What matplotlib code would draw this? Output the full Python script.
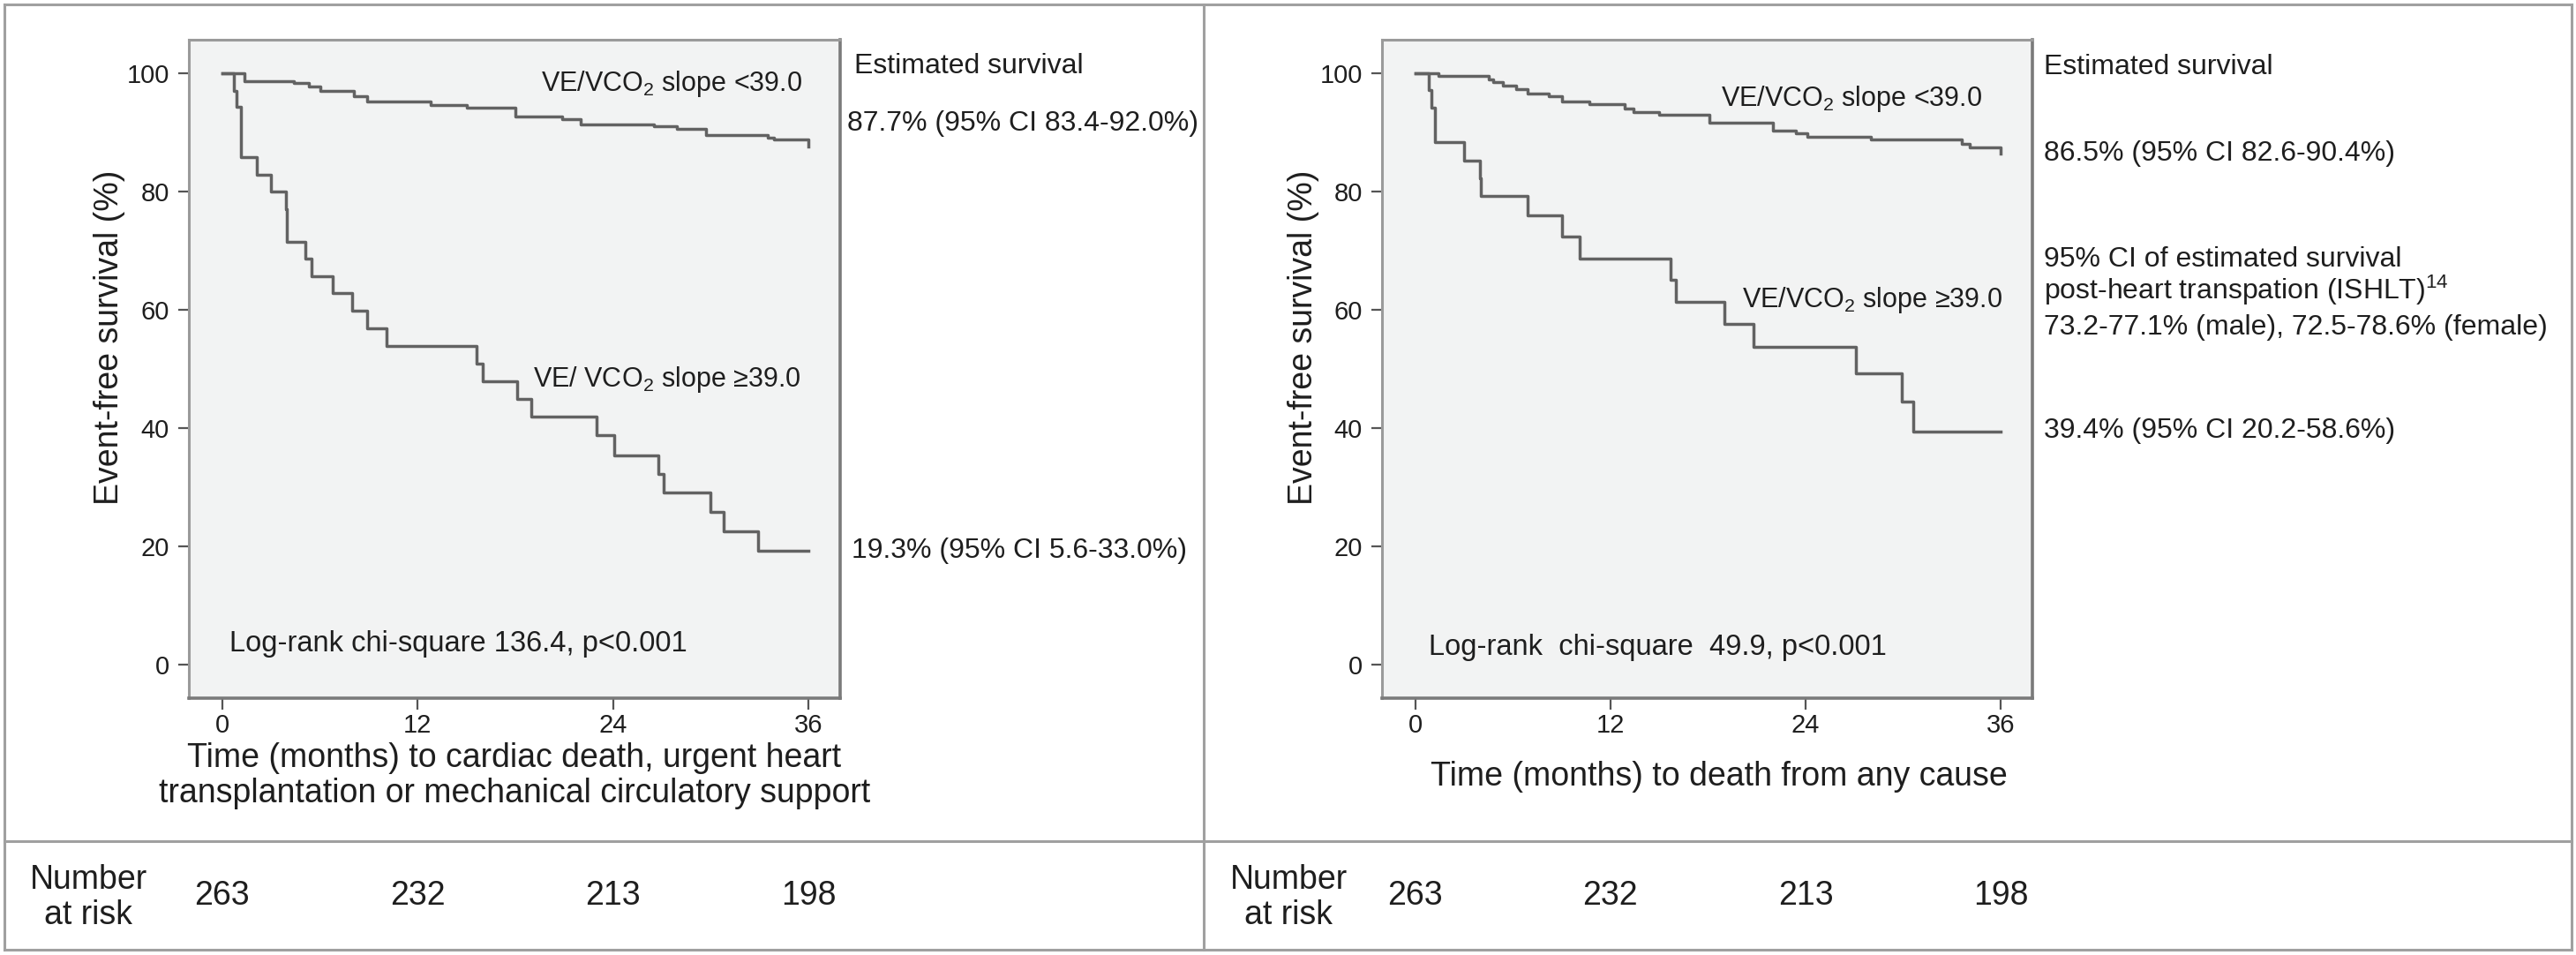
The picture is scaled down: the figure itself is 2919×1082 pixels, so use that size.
import matplotlib
matplotlib.use('Agg')
import matplotlib.pyplot as plt
import matplotlib.transforms as mtransforms
from matplotlib.lines import Line2D

plt.rcParams['font.family'] = ['Liberation Sans', 'DejaVu Sans']
plt.rcParams['mathtext.fontset'] = 'custom'
plt.rcParams['mathtext.rm'] = 'Liberation Sans'
plt.rcParams['mathtext.it'] = 'Liberation Sans:italic'
plt.rcParams['mathtext.bf'] = 'Liberation Sans:bold'

# Kaplan-Meier curves (months, survival %)
left_low_t = [0, 1.35, 4.4, 5.3, 6.0, 8.1, 8.9, 12.8, 15.0, 18.0, 20.9, 22.0,
              26.5, 27.9, 29.7, 33.5, 33.9, 36.0]
left_low_s = [100, 98.7, 98.4, 97.8, 97.0, 96.2, 95.2, 94.6, 94.2, 92.7, 92.2, 91.4,
              91.0, 90.6, 89.6, 89.1, 88.8, 87.7]
left_high_t = [0, 0.7, 0.85, 1.13, 2.15, 3.0, 3.9, 3.95, 5.1, 5.5, 6.8, 8.0, 8.9,
               10.1, 15.6, 16.0, 18.1, 19.0, 23.0, 24.1, 26.8, 27.1, 30.0, 30.8,
               32.9, 36.0]
left_high_s = [100, 97.1, 94.3, 85.8, 82.8, 80.0, 77.0, 71.5, 68.6, 65.7, 62.9, 59.9,
               56.9, 53.9, 50.9, 47.9, 44.9, 41.9, 38.8, 35.4, 32.2, 29.1, 25.8,
               22.5, 19.3, 19.3]

right_low_t = [0, 1.4, 4.5, 4.8, 5.4, 6.2, 6.9, 8.2, 9.0, 10.7, 12.9, 13.4, 15.0,
               18.1, 22.0, 23.4, 24.1, 28.0, 33.6, 34.1, 36.0]
right_low_s = [100, 99.6, 99.0, 98.5, 97.9, 97.3, 96.6, 96.2, 95.2, 94.8, 94.0, 93.4,
               93.0, 91.6, 90.3, 89.8, 89.3, 88.8, 88.1, 87.5, 86.5]
right_high_t = [0, 0.8, 1.0, 1.2, 3.0, 4.0, 4.05, 6.9, 9.0, 10.1, 15.7, 16.0, 19.0,
                20.8, 27.1, 29.9, 30.6, 36.0]
right_high_s = [100, 97.2, 94.2, 88.4, 85.2, 82.2, 79.3, 76.0, 72.4, 68.7, 65.1, 61.4,
                57.6, 53.8, 49.2, 44.5, 39.4, 39.4]

risk_times = [0, 12, 24, 36]
at_risk_left = [263, 232, 213, 198]
at_risk_right = [263, 232, 213, 198]

W, H = 2919, 1082
fig = plt.figure(figsize=(W / 100, H / 100), dpi=100)
TXT = '#1e1e1e'
LINE = '#626262'


def fx(x):
    return x / W


def fy(y):
    return 1 - y / H


# outer frame and dividers
frame = '#a0a0a0'
for xs, ys in [([5, 2914], [5, 5]), ([5, 2914], [1076, 1076]),
               ([5, 5], [5, 1076]), ([2914, 2914], [5, 1076]),
               ([1364, 1364], [5, 1076]), ([5, 2914], [953, 953])]:
    fig.add_artist(Line2D([fx(x) for x in xs], [fy(y) for y in ys],
                          color=frame, lw=2.2))


def setup(ax, xlabel, xlab_x, xlab_y):
    ax.set_facecolor('#f2f3f3')
    ax.set_xlim(-2.05, 37.95)
    ax.set_ylim(-5.7, 105.7)
    ax.set_xticks(risk_times)
    ax.set_yticks([0, 20, 40, 60, 80, 100])
    for side in ['left', 'top']:
        ax.spines[side].set_color('#9a9a9a')
        ax.spines[side].set_linewidth(2.2)
    for side in ['right', 'bottom']:
        ax.spines[side].set_color('#7a7a7a')
        ax.spines[side].set_linewidth(2.6)
    ax.tick_params(axis='both', direction='out', length=9, width=1.6,
                   color='#555555', labelsize=21, labelcolor=TXT)
    ax.tick_params(axis='x', pad=3)
    ax.tick_params(axis='y', pad=7)
    ax.set_ylabel('Event-free survival (%)', fontsize=27, color=TXT)
    ax.yaxis.set_label_coords(-0.097, 0.548)
    ax.set_xlabel(xlabel, fontsize=27, color=TXT, linespacing=1.13)
    ax.xaxis.set_label_coords(xlab_x, xlab_y)


axL = fig.add_axes([fx(214), fy(791), 738 / W, 746 / H])
axR = fig.add_axes([fx(1566), fy(791), 737 / W, 746 / H])

setup(axL, 'Time (months) to cardiac death, urgent heart\n'
      'transplantation or mechanical circulatory support', 0.5, -0.067)
setup(axR, 'Time (months) to death from any cause', 0.518, -0.095)

axL.step(left_low_t, left_low_s, where='post', color=LINE, lw=2.5)
axL.step(left_high_t, left_high_s, where='post', color=LINE, lw=2.5)
axR.step(right_low_t, right_low_s, where='post', color=LINE, lw=2.5)
axR.step(right_high_t, right_high_s, where='post', color=LINE, lw=2.5)

# labels inside plots
axL.text(19.6, 97.0, r'VE/VCO$_{\mathrm{2}}$ slope <39.0', fontsize=22,
         color=TXT, va='baseline')
axL.text(19.1, 47.0, r'VE/ VCO$_{\mathrm{2}}$ slope ≥39.0', fontsize=22,
         color=TXT, va='baseline')
axL.text(0.43, 2.2, 'Log-rank chi-square 136.4, p<0.001', fontsize=23.5,
         color=TXT, va='baseline')
axR.text(18.8, 94.5, r'VE/VCO$_{\mathrm{2}}$ slope <39.0', fontsize=22,
         color=TXT, va='baseline')
axR.text(20.1, 60.4, r'VE/VCO$_{\mathrm{2}}$ slope ≥39.0', fontsize=22,
         color=TXT, va='baseline')
axR.text(0.8, 1.6, 'Log-rank  chi-square  49.9, p<0.001', fontsize=23.5,
         color=TXT, va='baseline')

# estimated survival notes
fig.text(fx(968), fy(83), 'Estimated survival', fontsize=23, color=TXT, va='baseline')
fig.text(fx(960), fy(148), '87.7% (95% CI 83.4-92.0%)', fontsize=23, color=TXT,
         va='baseline')
fig.text(fx(965), fy(632), '19.3% (95% CI 5.6-33.0%)', fontsize=23, color=TXT,
         va='baseline')

fig.text(fx(2316), fy(84), 'Estimated survival', fontsize=23, color=TXT, va='baseline')
fig.text(fx(2316), fy(182), '86.5% (95% CI 82.6-90.4%)', fontsize=23, color=TXT,
         va='baseline')
fig.text(fx(2316), fy(302), '95% CI of estimated survival', fontsize=23, color=TXT,
         va='baseline')
fig.text(fx(2316), fy(339), r'post-heart transpation (ISHLT)$^{\mathrm{14}}$',
         fontsize=23, color=TXT, va='baseline')
fig.text(fx(2316), fy(379), '73.2-77.1% (male), 72.5-78.6% (female)', fontsize=23,
         color=TXT, va='baseline')
fig.text(fx(2316), fy(496), '39.4% (95% CI 20.2-58.6%)', fontsize=23, color=TXT,
         va='baseline')

# number at risk rows
for ax, counts, lab_x in [(axL, at_risk_left, 100), (axR, at_risk_right, 1460)]:
    fig.text(fx(lab_x), fy(1017), 'Number\nat risk', fontsize=27, color=TXT,
             ha='center', va='center', linespacing=1.15)
    trans = mtransforms.blended_transform_factory(ax.transData, fig.transFigure)
    for t, n in zip(risk_times, counts):
        ax.text(t, fy(1015), str(n), transform=trans, fontsize=27, color=TXT,
                ha='center', va='center')

fig.savefig('out.png', dpi=100)
